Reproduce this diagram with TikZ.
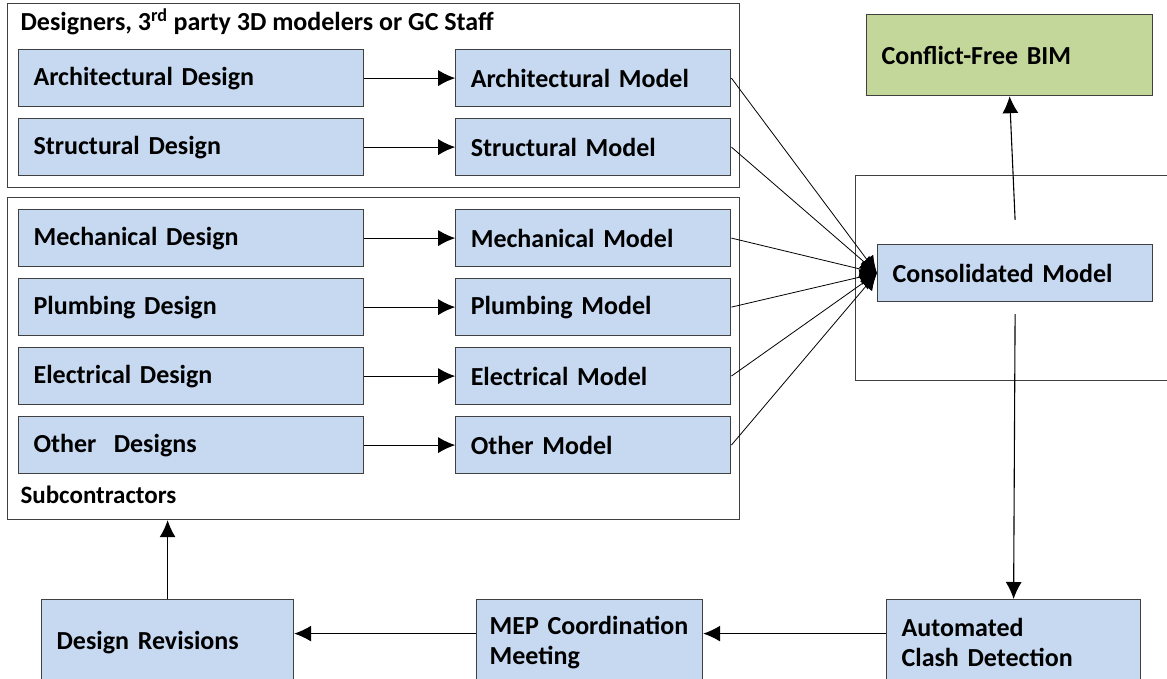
\documentclass[tikz,border=0pt]{standalone}
\usepackage{fontspec}
\setmainfont{Carlito}
\usetikzlibrary{positioning, arrows.meta}

\definecolor{boxblue}{RGB}{198,217,241}
\definecolor{boxgreen}{RGB}{196,215,155}
\definecolor{edgegray}{RGB}{64,64,64}

\tikzset{
	blk/.style={draw=edgegray, fill=boxblue, line width=1.2pt, anchor=north west, inner xsep=15pt, inner ysep=0pt, align=left, minimum height=57pt},
	design/.style={blk, minimum width=345pt, text width=315pt},
	model/.style={blk, minimum width=275pt, text width=245pt},
	grp/.style={draw=edgegray, line width=1.2pt, anchor=north west, inner sep=0pt}
}

\begin{document}
\begin{tikzpicture}[x=1pt, y=-1pt, >={Latex[length=17pt, width=16pt]}, line width=1.1pt, font=\fontsize{26}{30}\selectfont\bfseries]
	\useasboundingbox (0,0) rectangle (1167,679);
	
	% Groups
	\node [grp, minimum width=732pt, minimum height=184pt] (staff) at (7,3) {};
	\node [grp, minimum width=732pt, minimum height=322pt] (subs) at (7,197) {};
	\node [grp, minimum width=340pt, minimum height=205pt] (wrap) at (855,175) {};
	\node [anchor=base west, inner sep=0pt, font=\fontsize{26}{30}\selectfont\bfseries] (stafflbl) at (20,31) {Designers, 3\textsuperscript{rd} party 3D modelers or GC Staff};
	\node [anchor=base west, inner sep=0pt, font=\fontsize{25}{30}\selectfont\bfseries] (subslbl) at (20,503) {Subcontractors};
	
	% Designs and models
	\node [design] (archd) at (18,49) {Architectural Design};
	\node [model, right=91pt of archd] (archm) {Architectural Model};
	\node [design] (strd) at (18,118) {Structural Design};
	\node [model, right=91pt of strd] (strm) {Structural Model};
	\node [design] (mechd) at (18,209) {Mechanical Design};
	\node [model, right=91pt of mechd] (mechm) {Mechanical Model};
	\node [design] (plumbd) at (18,278) {Plumbing Design};
	\node [model, right=91pt of plumbd] (plumbm) {Plumbing Model};
	\node [design] (elecd) at (18,347) {Electrical Design};
	\node [model, right=91pt of elecd] (elecm) {Electrical Model};
	\node [design] (othd) at (18,416) {Other~~Designs};
	\node [model, right=91pt of othd] (othm) {Other Model};
	
	% Right side
	\node [blk, fill=boxgreen, minimum width=286pt, text width=256pt, minimum height=81pt] (bim) at (866,14) {Conflict-Free BIM};
	\node [blk, minimum width=275pt, text width=245pt] (cons) at (877,244) {Consolidated Model};
	
	% Bottom row
	\node [blk, minimum width=254pt, text width=224pt, minimum height=86pt] (clash) at (886,599) {Automated\\Clash Detection};
	\node [blk, minimum width=226pt, text width=200pt, inner xsep=13pt, minimum height=86pt] (mep) at (476,599) {MEP Coordination\\Meeting};
	\node [blk, minimum width=252pt, text width=222pt, minimum height=86pt] (revs) at (41,599) {Design Revisions};
	
	% Arrows
	\foreach \d/\m in {archd/archm, strd/strm, mechd/mechm, plumbd/plumbm, elecd/elecm, othd/othm}
		\draw[->] (\d) -- (\m);
	\foreach \m in {archm, strm, mechm, plumbm, elecm, othm}
		\draw[->, line width=0.8pt] (\m.east) -- (cons.west);
	\draw[->] ([yshift=24pt]cons.north) -- (bim.south);
	\draw[->] ([yshift=-12pt]cons.south) -- (clash.north);
	\draw[->] ([yshift=9pt]clash.west) -- ([yshift=9pt]mep.east);
	\draw[->] ([yshift=9pt]mep.west) -- ([yshift=9pt]revs.east);
	\draw[->] (revs.north) -- (revs.north |- subs.south);
\end{tikzpicture}
\end{document}
